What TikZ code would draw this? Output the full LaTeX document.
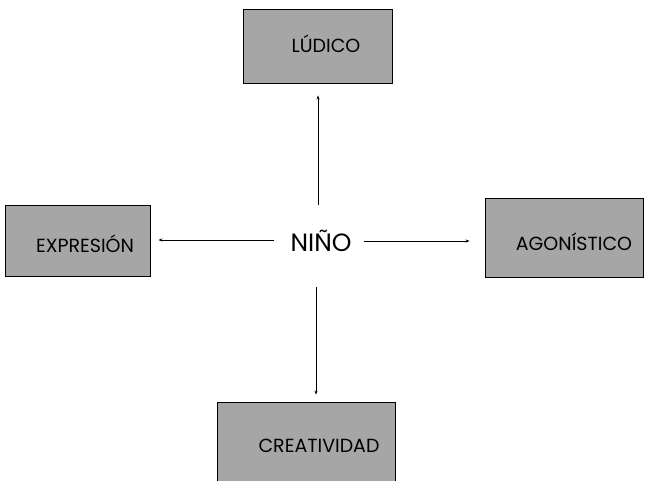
\documentclass[tikz,border=0pt]{standalone}
\usepackage{fontspec}
\setmainfont{Poppins}
\usetikzlibrary{arrows.meta}
\definecolor{boxgray}{RGB}{166,166,166}
\tikzset{
  concept/.style={draw=black, line width=0.9pt, fill=boxgray, inner sep=0pt},
  conceptlabel/.style={font=\fontsize{19}{22}\selectfont, inner sep=0pt},
  link/.style={line width=0.6pt, -{Stealth[length=4pt,width=3pt]}}
}
\begin{document}
\begin{tikzpicture}[x=1pt,y=-1pt]
  \useasboundingbox (0,0) rectangle (645,480);
  % central word
  \node[font=\fontsize{25}{30}\selectfont, inner sep=0pt] (nino) at (321,241) {NIÑO};
  % surrounding concept boxes
  \node[concept, minimum width=149pt, minimum height=74pt] (ludico) at (317.5,46) {};
  \node[conceptlabel] (ludicotxt) at (326,44) {LÚDICO};
  \node[concept, minimum width=145pt, minimum height=71pt] (expr) at (77.5,240.5) {};
  \node[conceptlabel] (exprtxt) at (85,244) {EXPRESIÓN};
  \node[concept, minimum width=158pt, minimum height=79pt] (agon) at (564,237.5) {};
  \node[conceptlabel] (agontxt) at (574,242) {AGONÍSTICO};
  \node[concept, minimum width=178pt, minimum height=80pt] (creat) at (306,442) {};
  \node[conceptlabel] (creattxt) at (319,446) {CREATIVIDAD};
  % free ends of the connectors next to the central word
  \coordinate (up0) at (318,205);
  \coordinate (left0) at (274,240);
  \coordinate (right0) at (364,241);
  \coordinate (down0) at (316,287);
  % connectors
  \draw[link, shorten >=12pt] (up0) -- (up0 |- ludico.south);
  \draw[link, shorten >=8pt] (left0) -- (left0 -| expr.east);
  \draw[link, shorten >=15pt] (right0) -- (right0 -| agon.west);
  \draw[link, shorten >=7pt] (down0) -- (down0 |- creat.north);
\end{tikzpicture}
\end{document}
